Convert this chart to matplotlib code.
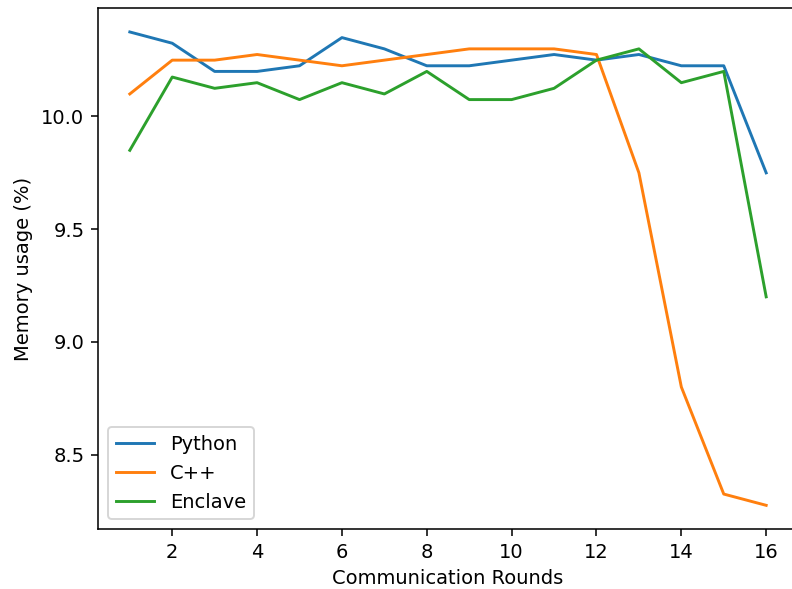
import matplotlib
matplotlib.use("Agg")
import matplotlib.pyplot as plt

rounds = list(range(1, 17))
python_mem = [10.375, 10.325, 10.2, 10.2, 10.225, 10.35, 10.3, 10.225,
              10.225, 10.25, 10.275, 10.25, 10.275, 10.225, 10.225, 9.75]
cpp_mem = [10.1, 10.25, 10.25, 10.275, 10.25, 10.225, 10.25, 10.275,
           10.3, 10.3, 10.3, 10.275, 9.75, 8.8, 8.325, 8.275]
enclave_mem = [9.85, 10.175, 10.125, 10.15, 10.075, 10.15, 10.1, 10.2,
               10.075, 10.075, 10.125, 10.25, 10.3, 10.15, 10.2, 9.2]

DPI = 140
fig = plt.figure(figsize=(792 / DPI, 589 / DPI), dpi=DPI)
ax = fig.add_axes([98 / 792, (589 - 529) / 589, 700 / 792, (529 - 8.3) / 589])
ax.plot(rounds, python_mem, label="Python")
ax.plot(rounds, cpp_mem, label="C++")
ax.plot(rounds, enclave_mem, label="Enclave")
ax.set_xlabel("Communication Rounds")
ax.set_ylabel("Memory usage (%)")
ax.legend(loc="lower left")
fig.savefig("out.png", dpi=DPI)
